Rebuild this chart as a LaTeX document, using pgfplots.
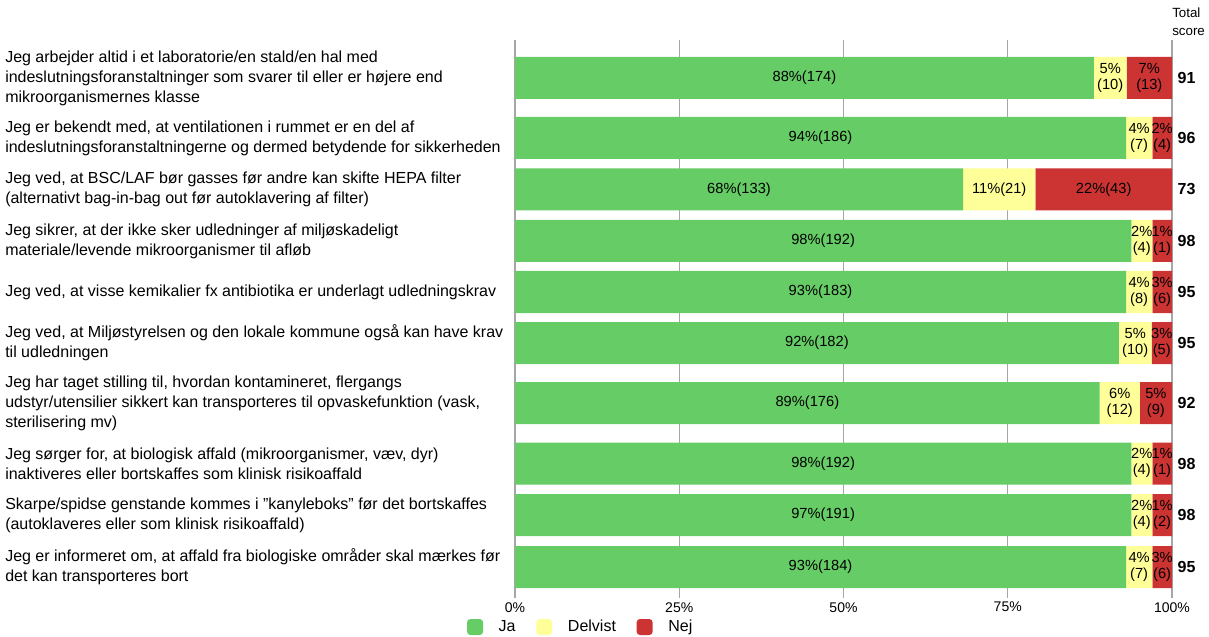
\documentclass[border=0pt]{standalone}
\usepackage{fontspec}
\setmainfont{Liberation Sans}
\usepackage{pgfplots}
\pgfplotsset{compat=1.18}
\definecolor{cJa}{RGB}{102,204,102}
\definecolor{cDel}{RGB}{255,255,153}
\definecolor{cNej}{RGB}{204,51,51}
\definecolor{cGrid}{RGB}{166,166,166}
\protected\def\tl#1#2{\begin{tabular}{@{}c@{}}#1\\#2\end{tabular}}
\begin{document}
\begin{tikzpicture}[x=1pt,y=1pt]
\useasboundingbox (0,0) rectangle (906.75,477);
\begin{axis}[
  at={(386.25pt,28.5pt)}, anchor=south west,
  scale only axis, width=492.75pt, height=418.5pt,
  xbar stacked, bar width=42,
  xmin=0, xmax=100, ymin=-598, ymax=-40,
  clip=false,
  axis line style={draw=none}, major tick length=0,
  xmajorgrids, major grid style={cGrid, line width=1pt},
  xtick={0,25,50,75,100},
  xticklabels={0\%,25\%,50\%,75\%,100\%},
  xticklabel style={font=\fontsize{10.5}{12}\selectfont, inner sep=0pt, yshift=-3pt},
  ytick={-78,-138,-189.5,-241,-292,-343,-403,-463.5,-515,-567},
  yticklabels={
    {Jeg arbejder altid i et laboratorie/en stald/en hal med\\indeslutningsforanstaltninger som svarer til eller er højere end\\mikroorganismernes klasse},
    {Jeg er bekendt med, at ventilationen i rummet er en del af\\indeslutningsforanstaltningerne og dermed betydende for sikkerheden},
    {Jeg ved, at BSC/LAF bør gasses før andre kan skifte HEPA filter\\(alternativt bag-in-bag out før autoklavering af filter)},
    {Jeg sikrer, at der ikke sker udledninger af miljøskadeligt\\materiale/levende mikroorganismer til afløb},
    {Jeg ved, at visse kemikalier fx antibiotika er underlagt udledningskrav},
    {Jeg ved, at Miljøstyrelsen og den lokale kommune også kan have krav\\til udledningen},
    {Jeg har taget stilling til, hvordan kontamineret, flergangs\\udstyr/utensilier sikkert kan transporteres til opvaskefunktion (vask,\\sterilisering mv)},
    {Jeg sørger for, at biologisk affald (mikroorganismer, væv, dyr)\\inaktiveres eller bortskaffes som klinisk risikoaffald},
    {Skarpe/spidse genstande kommes i ”kanyleboks” før det bortskaffes\\(autoklaveres eller som klinisk risikoaffald)},
    {Jeg er informeret om, at affald fra biologiske områder skal mærkes før\\det kan transporteres bort}},
  yticklabel style={anchor=west, align=left, inner sep=0pt, xshift=-382.5pt,
    font=\fontsize{12}{15}\selectfont},
  point meta=explicit symbolic,
  nodes near coords,
  every node near coord/.append style={anchor=center, inner sep=0pt,
    font=\fontsize{11}{12}\selectfont},
  legend columns=3,
  legend style={at={(0.1005,-0.052)}, anchor=center, draw=none, fill=none,
    font=\fontsize{12}{14}\selectfont,
    /tikz/every even column/.append style={column sep=13.5pt},
    /tikz/every odd column/.append style={column sep=9.75pt}},
  legend image code/.code={\fill[#1, rounded corners=2.5pt] (0pt,-6pt) rectangle (12pt,6pt);},
]
\addplot[fill=cJa, draw=none] coordinates {
  (88.1,-78) [88\%(174)]
  (93.0,-138) [94\%(186)]
  (68.2,-189.5) [68\%(133)]
  (93.8,-241) [98\%(192)]
  (93.0,-292) [93\%(183)]
  (91.9,-343) [92\%(182)]
  (89.0,-403) [89\%(176)]
  (93.8,-463.5) [98\%(192)]
  (93.8,-515) [97\%(191)]
  (93.0,-567) [93\%(184)]
};
\addplot[fill=cDel, draw=none] coordinates {
  (5.0,-78) [\tl{5\%}{(10)}]
  (4.0,-138) [\tl{4\%}{(7)}]
  (11.0,-189.5) [11\%(21)]
  (3.2,-241) [\tl{2\%}{(4)}]
  (4.0,-292) [\tl{4\%}{(8)}]
  (5.0,-343) [\tl{5\%}{(10)}]
  (6.1,-403) [\tl{6\%}{(12)}]
  (3.2,-463.5) [\tl{2\%}{(4)}]
  (3.2,-515) [\tl{2\%}{(4)}]
  (4.0,-567) [\tl{4\%}{(7)}]
};
\addplot[fill=cNej, draw=none] coordinates {
  (6.9,-78) [\tl{7\%}{(13)}]
  (3.0,-138) [\tl{2\%}{(4)}]
  (20.8,-189.5) [22\%(43)]
  (3.0,-241) [\tl{1\%}{(1)}]
  (3.0,-292) [\tl{3\%}{(6)}]
  (3.1,-343) [\tl{3\%}{(5)}]
  (4.9,-403) [\tl{5\%}{(9)}]
  (3.0,-463.5) [\tl{1\%}{(1)}]
  (3.0,-515) [\tl{1\%}{(2)}]
  (3.0,-567) [\tl{3\%}{(6)}]
};
\legend{Ja,Delvist,Nej}
\end{axis}
\begin{axis}[
  at={(386.25pt,28.5pt)}, anchor=south west,
  scale only axis, width=492.75pt, height=418.5pt,
  xmin=0, xmax=100, ymin=-598, ymax=-40,
  axis line style={draw=none}, major tick length=0,
  xtick=\empty,
  ytick={-78,-138,-189.5,-241,-292,-343,-403,-463.5,-515,-567},
  yticklabels={91,96,73,98,95,95,92,98,98,95},
  yticklabel pos=right,
  yticklabel style={anchor=west, inner sep=0pt, xshift=4pt,
    font=\fontsize{12}{14}\selectfont\bfseries},
]
\addplot[draw=none, mark=none] coordinates {(0,-100) (1,-100)};
\end{axis}
\node[anchor=west, align=left, inner sep=0pt, font=\fontsize{10}{13.5}\selectfont]
  at (879pt,460.5pt) {Total\\score};
\end{tikzpicture}
\end{document}
